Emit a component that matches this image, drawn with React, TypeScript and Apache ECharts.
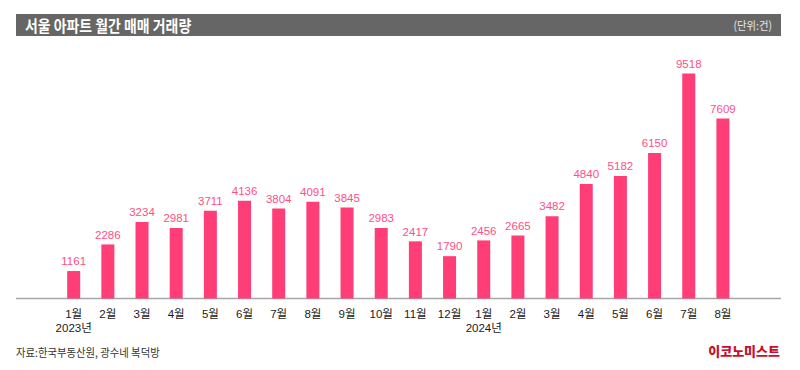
import React, { useEffect, useRef } from "react";
import * as echarts from "echarts";

const months = ["1월", "2월", "3월", "4월", "5월", "6월", "7월", "8월", "9월", "10월", "11월", "12월", "1월", "2월", "3월", "4월", "5월", "6월", "7월", "8월"];
const years = ["2023년", "", "", "", "", "", "", "", "", "", "", "", "2024년", "", "", "", "", "", "", ""];
const volumes = [1161, 2286, 3234, 2981, 3711, 4136, 3804, 4091, 3845, 2983, 2417, 1790, 2456, 2665, 3482, 4840, 5182, 6150, 9518, 7609];

const TITLE = "서울 아파트 월간 매매 거래량";
const UNIT = "(단위:건)";
const SOURCE = "자료:한국부동산원, 광수네 복덕방";
const BRAND = "이코노미스트";

const FONT = "'Liberation Sans', 'Noto Sans CJK KR', sans-serif";
const KFONT = "'Noto Sans CJK KR', 'Liberation Sans', sans-serif";

export default function App() {
  const ref = useRef<HTMLDivElement>(null);
  useEffect(() => {
    if (!ref.current) return;
    const chart = echarts.init(ref.current, null, { renderer: "svg" });
    const categories = months.map((m, i) => (years[i] ? `${m}\n${years[i]}` : m));
    chart.setOption({
      animation: false,
      backgroundColor: "#ffffff",
      grid: { left: 56.6, right: 60, top: 62, bottom: 71.5, containLabel: false },
      xAxis: {
        type: "category",
        data: categories,
        axisLine: { show: false },
        axisTick: { show: false },
        axisLabel: {
          color: "#1a1a1a",
          fontSize: 11.5,
          fontFamily: FONT,
          margin: 8,
          lineHeight: 14,
          interval: 0,
        },
      },
      yAxis: {
        type: "value",
        min: 0,
        max: 10000,
        show: false,
        splitLine: { show: false },
      },
      series: [
        {
          type: "bar",
          data: volumes,
          barWidth: 13,
          itemStyle: { color: "#FF3D77" },
          label: {
            show: true,
            position: "top",
            distance: 4,
            color: "#FF4F85",
            fontSize: 11.5,
            fontFamily: FONT,
          },
        },
      ],
      graphic: [
        { type: "rect", shape: { x: 16, y: 14, width: 765, height: 22 }, style: { fill: "#666666" }, silent: true },
        {
          type: "text",
          x: 25,
          y: 25.5,
          scaleX: 0.87,
          style: { text: TITLE, fill: "#ffffff", font: `bold 16px ${KFONT}`, verticalAlign: "middle", align: "left" },
        },
        {
          type: "text",
          x: 772,
          y: 25,
          scaleX: 0.9,
          style: { text: UNIT, fill: "#e6e6e6", font: `11.5px ${KFONT}`, verticalAlign: "middle", align: "right" },
        },
        { type: "line", shape: { x1: 16, y1: 298.5, x2: 781, y2: 298.5 }, style: { stroke: "#a6a6a6", lineWidth: 1.5 } },
        {
          type: "text",
          x: 16,
          y: 352,
          scaleX: 0.9,
          style: { text: SOURCE, fill: "#333333", font: `11.5px ${KFONT}`, verticalAlign: "middle", align: "left" },
        },
        {
          type: "text",
          x: 780,
          y: 350,
          style: { text: BRAND, fill: "#C8102E", font: `900 13px ${KFONT}`, verticalAlign: "middle", align: "right" },
        },
      ],
    });
    return () => chart.dispose();
  }, []);
  return <div ref={ref} style={{ position: "fixed", left: 0, top: 0, width: 800, height: 370 }} />;
}
